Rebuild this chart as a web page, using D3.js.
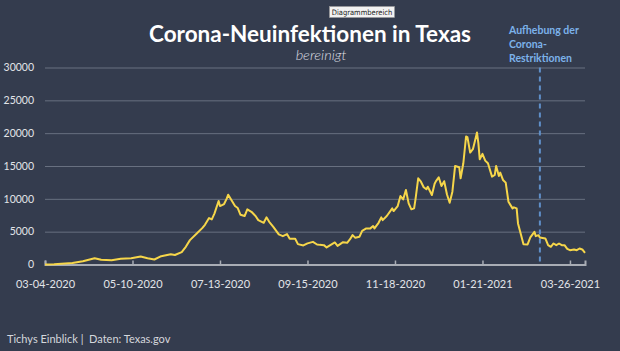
<!DOCTYPE html>
<html lang="de">
<head>
	<meta charset="UTF-8">
	<title>Corona-Neuinfektionen in Texas</title>
	<script src="https://d3js.org/d3.v7.min.js"></script>
	<style>
		body { margin: 0; background: #343c4e; font-family: Lato, "Open Sans", sans-serif; }
		.grid line { stroke: #687080; stroke-width: 1; }
		.grid path { display: none; }
	</style>
</head>
<body>
<div id="chart"></div>
<script>
	// tick labels on the x axis (every 64 days)
	const tickLabels = ["03-04-2020", "05-10-2020", "07-13-2020", "09-15-2020", "11-18-2020", "01-21-2021", "03-26-2021"];
	const lastDay = "04-06-2021";
	const yTicks = [0, 5000, 10000, 15000, 20000, 25000, 30000];

	// daily new cases
	const dates = [
		"03-04-2020","03-11-2020","03-25-2020","04-02-2020","04-11-2020","04-16-2020","04-24-2020","05-01-2020","05-09-2020",
		"05-16-2020","05-21-2020","05-26-2020","05-31-2020","06-07-2020","06-10-2020","06-15-2020","06-18-2020","06-21-2020",
		"06-26-2020","06-30-2020","07-02-2020","07-05-2020","07-07-2020","07-09-2020","07-12-2020",
		"07-13-2020","07-16-2020","07-18-2020","07-19-2020","07-21-2020","07-24-2020","07-26-2020","07-28-2020","07-31-2020",
		"08-02-2020","08-05-2020","08-08-2020","08-10-2020","08-14-2020","08-16-2020","08-18-2020","08-21-2020","08-25-2020",
		"08-28-2020","08-31-2020","09-02-2020","09-06-2020","09-08-2020","09-12-2020",
		"09-15-2020","09-19-2020","09-22-2020","09-24-2020","09-27-2020","09-29-2020","10-02-2020","10-05-2020","10-07-2020",
		"10-11-2020","10-14-2020","10-16-2020","10-18-2020","10-20-2020","10-23-2020","10-25-2020","10-28-2020","10-31-2020",
		"11-02-2020","11-03-2020","11-06-2020","11-08-2020","11-09-2020","11-12-2020","11-16-2020","11-17-2020",
		"11-20-2020","11-22-2020","11-24-2020","11-26-2020","11-28-2020","11-30-2020","12-02-2020","12-03-2020","12-05-2020",
		"12-07-2020","12-09-2020","12-11-2020","12-12-2020","12-15-2020","12-17-2020","12-18-2020","12-20-2020","12-22-2020",
		"12-24-2020","12-26-2020","12-28-2020","12-30-2020","01-01-2021","01-04-2021","01-05-2021","01-07-2021","01-09-2021",
		"01-10-2021","01-12-2021","01-14-2021","01-15-2021","01-17-2021","01-18-2021","01-19-2021",
		"01-21-2021","01-23-2021","01-25-2021","01-28-2021","01-30-2021","01-31-2021","02-02-2021","02-03-2021","02-05-2021",
		"02-07-2021","02-09-2021","02-12-2021","02-13-2021","02-15-2021","02-16-2021","02-20-2021","02-23-2021","02-25-2021",
		"02-28-2021","03-01-2021","03-03-2021","03-04-2021","03-08-2021","03-10-2021","03-12-2021","03-14-2021","03-16-2021",
		"03-18-2021","03-20-2021","03-22-2021","03-24-2021","03-26-2021","03-29-2021","03-31-2021","04-02-2021","04-04-2021",
		"04-06-2021"
	];
	const cases = [
		0, 50, 244, 500, 960, 710, 650, 860, 960,
		1220, 960, 760, 1270, 1550, 1440, 1880, 2690, 3710,
		4730, 5540, 6050, 7070, 6870, 7790, 9670,
		8900, 9210, 10080, 10630, 9930, 8900, 8600, 7570, 7380,
		8400, 8030, 7380, 6760, 6350, 7180, 6500, 5740, 4580,
		4320, 4630, 3910, 3910, 3100, 2900,
		3220, 3450, 3050, 2990, 2950, 2600, 2990, 3360, 2840,
		3400, 3300, 3820, 4470, 4060, 4220, 5130, 5500, 5500,
		5850, 5500, 6350, 7180, 6760, 7380, 8550, 8140,
		8900, 10430, 9920, 11350, 9310, 8400, 8550, 9920, 13130,
		12610, 11760, 11450, 11850, 10580, 12290, 12700, 13280, 11950,
		12680, 10700, 9410, 11090, 15010, 14810, 13130, 15420, 19490,
		19390, 17040, 17560, 18370, 20100, 18480, 16040,
		16840, 15820, 15420, 13380, 13640, 15010, 13480, 13990, 12880,
		12470, 9560, 8550, 8700, 8550, 6260, 3100, 3050, 4120,
		4980, 4320, 4470, 4120, 3970, 2950, 2690, 3200, 2950,
		3200, 2950, 2950, 2380, 2180, 2290, 2180, 2440, 2290,
		1770
	];
	const liftDate = "03-04-2021";

	const W = 620, H = 351;
	const plotLeft = 45, plotRight = 585, plotTop = 67.5, plotBottom = 264.5;
	const parse = d3.timeParse("%m-%d-%Y");

	const svg = d3.select("#chart")
		.append("svg")
		.attr("width", W)
		.attr("height", H);

	// category-like date axis: label ticks evenly spaced, 64 days apart after the first
	const tickDates = tickLabels.map(parse);
	const step = (plotRight - plotLeft) / (tickLabels.length - 1 + 11 / 64);
	const x = d3.scaleTime()
		.domain(tickDates.concat([parse(lastDay)]))
		.range(tickDates.map((d, i) => plotLeft + i * step).concat([plotRight]));

	const y = d3.scaleLinear()
		.domain([0, 30000])
		.range([plotBottom, plotTop]);

	// grid lines
	svg.append("g")
		.attr("class", "grid")
		.attr("transform", `translate(${plotLeft},0)`)
		.call(d3.axisLeft(y).tickValues(yTicks.slice(1)).tickSize(-(plotRight - plotLeft)).tickFormat(""));

	// y labels
	svg.append("g")
		.selectAll("text")
		.data(yTicks)
		.join("text")
		.attr("x", 34)
		.attr("y", d => y(d))
		.attr("dy", "0.35em")
		.attr("text-anchor", "end")
		.style("font-size", "10.5px")
		.style("fill", "#e2e4e8")
		.text(d => d);

	// x axis
	const xAxis = svg.append("g")
		.attr("transform", `translate(0,${plotBottom})`)
		.call(d3.axisBottom(x).tickValues(tickDates).tickSize(-4).tickPadding(16).tickFormat((d, i) => tickLabels[i]));
	xAxis.select(".domain").attr("stroke", "#a9adb5").attr("stroke-width", 2);
	xAxis.selectAll(".tick line").attr("stroke", "#a9adb5").attr("stroke-width", 1.5);
	xAxis.selectAll("text")
		.style("font-family", "Lato, sans-serif")
		.style("font-size", "11px")
		.style("fill", "#e2e4e8");

	// dashed line: lifting of restrictions
	svg.append("line")
		.attr("x1", x(parse(liftDate)))
		.attr("x2", x(parse(liftDate)))
		.attr("y1", plotTop)
		.attr("y2", plotBottom)
		.attr("stroke", "#5f8fc8")
		.attr("stroke-width", 2)
		.attr("stroke-dasharray", "5,4");

	// cases line
	const line = d3.line()
		.x((d, i) => x(parse(dates[i])))
		.y(d => y(d));

	svg.append("path")
		.datum(cases)
		.attr("fill", "none")
		.attr("stroke", "#f6d64a")
		.attr("stroke-width", 2)
		.attr("stroke-linejoin", "round")
		.attr("d", line);

	// title
	svg.append("text")
		.attr("x", 310)
		.attr("y", 42)
		.attr("text-anchor", "middle")
		.style("font-size", "22.5px")
		.style("font-weight", "bold")
		.style("fill", "#ffffff")
		.text("Corona-Neuinfektionen in Texas");

	svg.append("text")
		.attr("x", 321)
		.attr("y", 60)
		.attr("text-anchor", "middle")
		.style("font-size", "14.5px")
		.style("font-style", "italic")
		.style("font-weight", "300")
		.style("fill", "#dcdee2")
		.text("bereinigt");

	// annotation
	const note = ["Aufhebung der", "Corona-", "Restriktionen"];
	svg.append("g")
		.selectAll("text")
		.data(note)
		.join("text")
		.attr("x", 509)
		.attr("y", (d, i) => 34 + i * 14)
		.style("font-size", "10.5px")
		.style("font-weight", "bold")
		.style("fill", "#7cb2ea")
		.text(d => d);

	// excel tooltip
	svg.append("rect")
		.attr("x", 329.5)
		.attr("y", 6.5)
		.attr("width", 65)
		.attr("height", 11)
		.attr("fill", "#f2f2f2")
		.attr("stroke", "#9a9a9a")
		.attr("stroke-width", 0.6);
	svg.append("text")
		.attr("x", 362)
		.attr("y", 15)
		.attr("text-anchor", "middle")
		.style("font-family", "'DejaVu Sans Condensed', 'Liberation Sans Narrow', sans-serif")
		.style("font-size", "7.5px")
		.style("fill", "#222")
		.text("Diagrammbereich");

	// footer
	svg.append("text")
		.attr("x", 7)
		.attr("y", 343)
		.style("font-size", "11px")
		.style("white-space", "pre")
		.style("fill", "#d4d7dc")
		.text("Tichys Einblick |  Daten: Texas.gov");
</script>
</body>
</html>
